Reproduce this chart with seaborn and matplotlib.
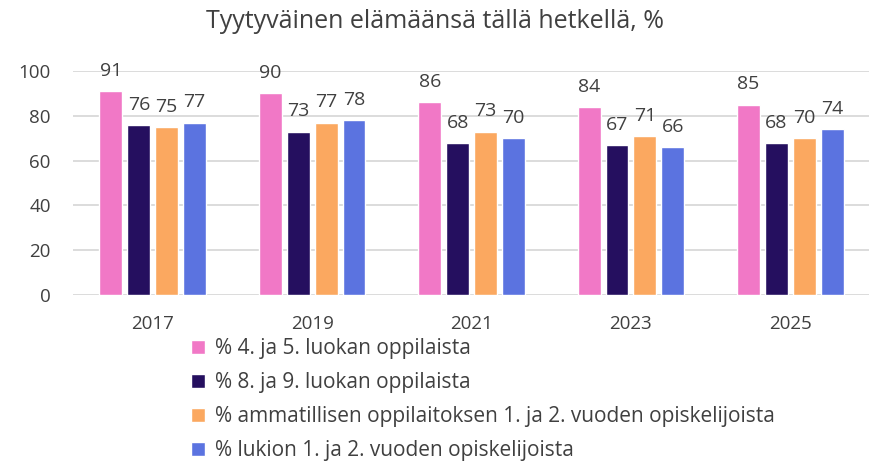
import matplotlib
matplotlib.use("Agg")
import matplotlib.pyplot as plt
import seaborn as sns
import pandas as pd

years = ["2017", "2019", "2021", "2023", "2025"]
series = [
    "% 4. ja 5. luokan oppilaista",
    "% 8. ja 9. luokan oppilaista",
    "% ammatillisen oppilaitoksen 1. ja 2. vuoden opiskelijoista",
    "% lukion 1. ja 2. vuoden opiskelijoista",
]
v_4_5 = [91, 90, 86, 84, 85]
v_8_9 = [76, 73, 68, 67, 68]
v_amm = [75, 77, 73, 71, 70]
v_lukio = [77, 78, 70, 66, 74]
colors = ["#F178C6", "#250F5F", "#FBA860", "#5B73E0"]
title = "Tyytyväinen elämäänsä tällä hetkellä, %"

rows = []
for s, vals in zip(series, [v_4_5, v_8_9, v_amm, v_lukio]):
    for y, v in zip(years, vals):
        rows.append({"Vuosi": y, "Sarja": s, "Arvo": v})
df = pd.DataFrame(rows)

sns.set_theme(style="white")
plt.rcParams["font.family"] = ["Open Sans", "DejaVu Sans"]
txt = "#404040"

fig = plt.figure(figsize=(8.7, 4.7), dpi=100)
ax = fig.add_axes([0.084, 0.372, 0.916, 0.477])
sns.barplot(data=df, x="Vuosi", y="Arvo", hue="Sarja", hue_order=series,
            order=years, palette=colors, width=0.7, gap=0.18, ax=ax,
            saturation=1, legend=True, err_kws={"linewidth": 0})
ax.set_ylim(0, 100)
ax.set_yticks(range(0, 101, 20))
ax.yaxis.grid(True, color="#D9D9D9", linewidth=1.3)
ax.set_axisbelow(True)
for sp in ax.spines.values():
    sp.set_visible(False)
ax.set_xlabel("")
ax.set_ylabel("")
ax.tick_params(axis="both", length=0, labelsize=13.5, labelcolor=txt)
ax.tick_params(axis="x", pad=14)
ax.tick_params(axis="y", pad=16)

for c in ax.containers:
    ax.bar_label(c, padding=8, fontsize=14, color=txt, clip_on=False)

fig.suptitle(title, x=0.5, y=0.98, fontsize=18, color=txt)

h, l = ax.get_legend_handles_labels()
ax.get_legend().remove()
fig.legend(h, l, loc="upper left", bbox_to_anchor=(0.21, 0.298), frameon=False,
           fontsize=15, labelcolor=txt, handlelength=0.65, handleheight=0.65,
           handletextpad=0.5, labelspacing=0.62, borderaxespad=0)
fig.savefig("out.png", dpi=100)
